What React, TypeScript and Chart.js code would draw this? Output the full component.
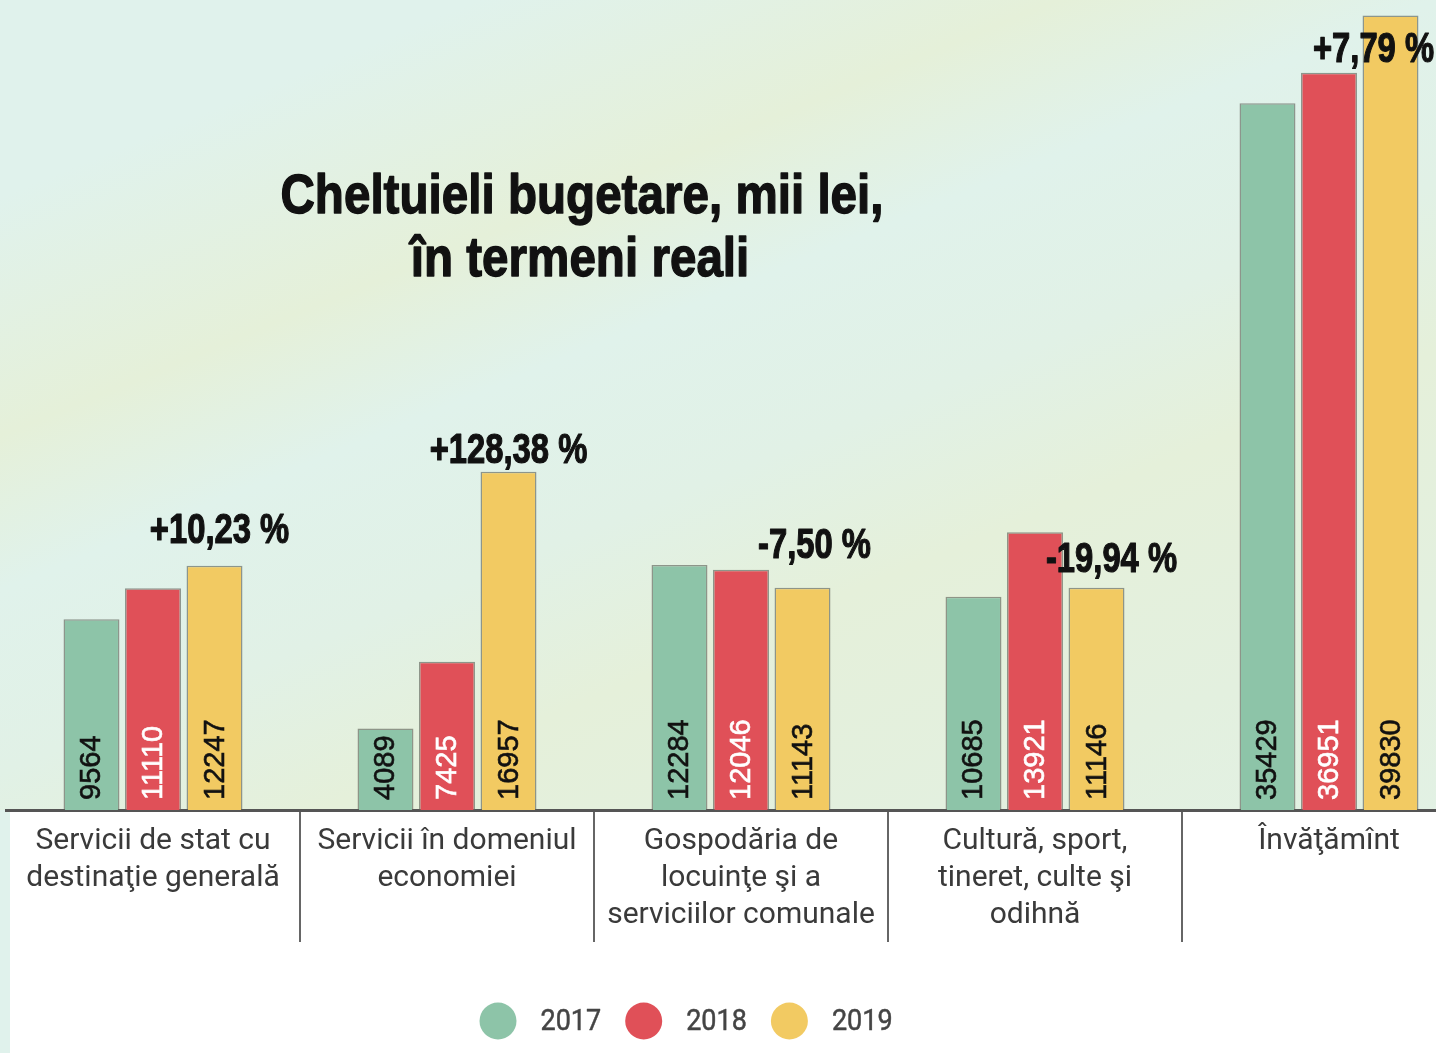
import React, { useEffect, useRef } from "react";
import { Chart, registerables } from "chart.js";

Chart.register(...registerables);

// ---------- data ----------
const categories: string[][] = [
  ["Servicii de stat cu", "destinaţie generală"],
  ["Servicii în domeniul", "economiei"],
  ["Gospodăria de", "locuinţe şi a", "serviciilor comunale"],
  ["Cultură, sport,", "tineret, culte şi", "odihnă"],
  ["Învăţămînt"],
];
const years: string[] = ["2017", "2018", "2019"];
const values2017: number[] = [9564, 4089, 12284, 10685, 35429];
const values2018: number[] = [11110, 7425, 12046, 13921, 36951];
const values2019: number[] = [12247, 16957, 11143, 11146, 39830];
const percentLabels: string[] = ["+10,23 %", "+128,38 %", "-7,50 %", "-19,94 %", "+7,79 %"];
const titleLines: string[] = ["Cheltuieli bugetare, mii lei,", "în termeni reali"];

// ---------- styles ----------
const barColors = ["#8dc4a8", "#e05058", "#f2ca62"];
const valueTextColors = ["#111111", "#ffffff", "#111111"];
// placement of % annotations relative to the 2019 bar top (dx, dy)
const percentOffsets: [number, number][] = [
  [5, -23],
  [0, -9],
  [12, -30],
  [15, -16],
  [-17, 47],
];

const CANVAS_W = 1480;
const CANVAS_H = 1053;

function condensedText(
  ctx: CanvasRenderingContext2D,
  text: string,
  x: number,
  y: number,
  sx: number,
  strokeW = 0
) {
  ctx.save();
  ctx.translate(x, y);
  ctx.scale(sx, 1);
  if (strokeW > 0) {
    ctx.lineWidth = strokeW;
    ctx.lineJoin = "round";
    ctx.strokeStyle = ctx.fillStyle as string;
    ctx.strokeText(text, 0, 0);
  }
  ctx.fillText(text, 0, 0);
  ctx.restore();
}

const backgroundPlugin = {
  id: "bgPlugin",
  beforeDraw(chart: any) {
    const { ctx, width, height } = chart;
    const xs = chart.scales.x;
    ctx.save();
    const g = ctx.createLinearGradient(0, 0, 495, 1202);
    g.addColorStop(0, "#e0f2ec");
    g.addColorStop(0.14, "#e0f2ec");
    g.addColorStop(0.31, "#e5f0d9");
    g.addColorStop(0.42, "#e0f2eb");
    g.addColorStop(0.55, "#e1f1e6");
    g.addColorStop(0.67, "#e5f0da");
    g.addColorStop(0.85, "#e3f0df");
    g.addColorStop(1, "#e2f1e4");
    ctx.fillStyle = g;
    ctx.fillRect(0, 0, width, height);
    ctx.fillStyle = "#e0f2ec";
    ctx.fillRect(0, xs.top, 10, height - xs.top);
    ctx.fillStyle = "#ffffff";
    ctx.fillRect(10, xs.top, width - 10, height - xs.top);
    ctx.restore();
  },
};

const titlePlugin = {
  id: "titlePlugin",
  beforeDatasetsDraw(chart: any) {
    const { ctx } = chart;
    ctx.save();
    ctx.fillStyle = "#111111";
    ctx.font = "bold 56px 'Liberation Sans', Arial, sans-serif";
    ctx.textAlign = "center";
    ctx.textBaseline = "alphabetic";
    condensedText(ctx, titleLines[0], 582, 213, 0.85, 1.4);
    condensedText(ctx, titleLines[1], 580, 276, 0.85, 1.4);
    ctx.restore();
  },
};

const labelsPlugin = {
  id: "labelsPlugin",
  afterDatasetsDraw(chart: any) {
    const { ctx } = chart;
    ctx.save();
    // values inside bars (rotated)
    ctx.font = "29px 'Liberation Sans', Arial, sans-serif";
    ctx.textAlign = "left";
    ctx.textBaseline = "middle";
    chart.data.datasets.forEach((ds: any, di: number) => {
      const meta = chart.getDatasetMeta(di);
      meta.data.forEach((bar: any, i: number) => {
        ctx.save();
        ctx.fillStyle = valueTextColors[di];
        ctx.strokeStyle = valueTextColors[di];
        ctx.lineWidth = 0.6;
        ctx.translate(bar.x, bar.base - 10);
        ctx.rotate(-Math.PI / 2);
        ctx.strokeText(String(ds.data[i]), 0, 1);
        ctx.fillText(String(ds.data[i]), 0, 1);
        ctx.restore();
      });
    });
    // percentage annotations above the 2019 bars
    const meta19 = chart.getDatasetMeta(2);
    ctx.fillStyle = "#111111";
    ctx.font = "bold 42px 'Liberation Sans', Arial, sans-serif";
    ctx.textAlign = "center";
    ctx.textBaseline = "alphabetic";
    meta19.data.forEach((bar: any, i: number) => {
      const [dx, dy] = percentOffsets[i];
      condensedText(ctx, percentLabels[i], bar.x + dx, bar.y + dy, 0.78, 1.2);
    });
    ctx.restore();
  },
};

const legendPlugin = {
  id: "customLegend",
  afterDraw(chart: any) {
    const { ctx } = chart;
    ctx.save();
    const r = 18.5;
    const cy = 1021;
    const gap = 24;
    const sx = 0.9;
    ctx.font = "30px Roboto, 'Noto Sans', sans-serif";
    ctx.textAlign = "left";
    ctx.textBaseline = "middle";
    let cx = 498;
    chart.data.datasets.forEach((ds: any) => {
      ctx.fillStyle = ds.backgroundColor;
      ctx.beginPath();
      ctx.arc(cx, cy, r, 0, Math.PI * 2);
      ctx.fill();
      const tx = cx + r + gap;
      ctx.fillStyle = "#444444";
      condensedText(ctx, ds.label, tx, cy + 1, sx, 0.5);
      const tw = ctx.measureText(ds.label).width * sx;
      cx = tx + tw + gap + r;
    });
    ctx.restore();
  },
};

export default function App() {
  const canvasRef = useRef<HTMLCanvasElement | null>(null);

  useEffect(() => {
    document.body.style.margin = "0";
    const canvas = canvasRef.current;
    if (!canvas) return;
    const seriesValues = [values2017, values2018, values2019];
    const chart = new Chart(canvas, {
      type: "bar",
      data: {
        labels: categories,
        datasets: years.map((y, i) => ({
          label: y,
          data: seriesValues[i],
          backgroundColor: barColors[i],
          borderColor: "rgba(95,100,90,0.65)",
          borderWidth: 1.5,
          categoryPercentage: 0.6276,
          barPercentage: 0.91,
        })),
      },
      options: {
        responsive: false,
        animation: false,
        devicePixelRatio: 1,
        layout: { padding: { top: 12, left: 6, right: 4, bottom: 0 } },
        plugins: {
          legend: { display: false },
          tooltip: { enabled: false },
          title: { display: false },
        },
        scales: {
          x: {
            offset: true,
            grid: {
              display: true,
              offset: true,
              drawOnChartArea: false,
              drawTicks: true,
              tickLength: 132,
              lineWidth: 2,
              color: (c: any) => (c.index === 0 ? "rgba(0,0,0,0)" : "#666666"),
            },
            border: { display: true, color: "#555555", width: 3 },
            ticks: {
              autoSkip: false,
              maxRotation: 0,
              minRotation: 0,
              padding: -119,
              color: "#3a3a3a",
              font: { family: "Roboto, 'Noto Sans', sans-serif", size: 30, lineHeight: 37 / 30 },
            },
            afterFit: (scale: any) => {
              scale.height = 243;
            },
          },
          y: {
            display: false,
            min: 0,
            max: 40000,
          },
        },
      },
      plugins: [backgroundPlugin, titlePlugin, labelsPlugin, legendPlugin],
    } as any);
    return () => chart.destroy();
  }, []);

  return (
    <div style={{ width: 1436, height: CANVAS_H, overflow: "hidden", position: "relative" }}>
      <canvas ref={canvasRef} width={CANVAS_W} height={CANVAS_H} style={{ display: "block" }} />
    </div>
  );
}
